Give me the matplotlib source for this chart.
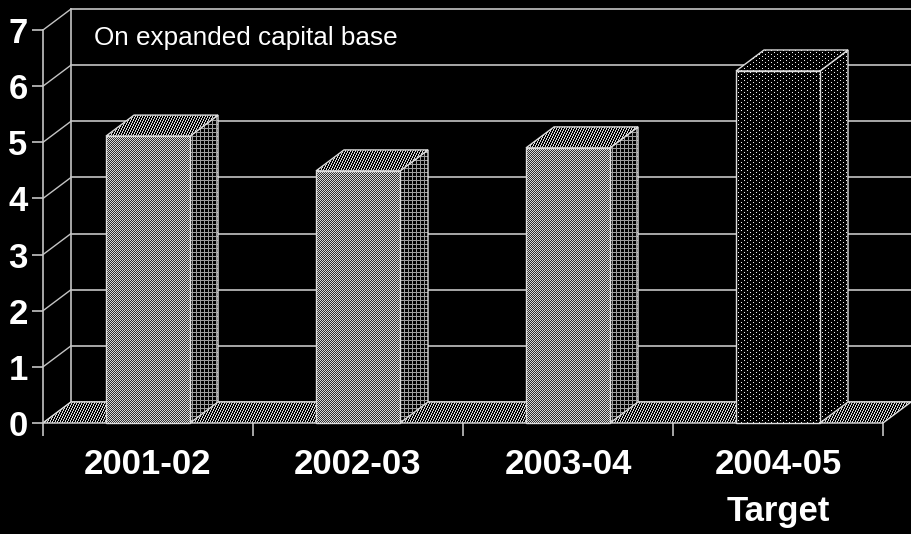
import matplotlib
matplotlib.use("Agg")
import matplotlib.pyplot as plt
from matplotlib.colors import Normalize
from matplotlib.image import FigureImage
from matplotlib.patches import Polygon
from matplotlib.transforms import IdentityTransform
import numpy as np

years = ["2001-02", "2002-03", "2003-04", "2004-05\nTarget"]
values = [5.11, 4.49, 4.90, 6.27]
y_ticks = [0, 1, 2, 3, 4, 5, 6, 7]
note = "On expanded capital base"

WIDTH, HEIGHT = 912, 534
DEPTH_X = 28 / 210
DEPTH_Y = 21 / 56.14
BAR_W = 0.4
GRID = "#c4c4c4"
EDGE = "#dcdcdc"

plt.rcParams["font.family"] = ["Liberation Sans", "DejaVu Sans"]

# dither patterns, one value per output pixel
yy, xx = np.mgrid[0:HEIGHT, 0:WIDTH]
checker = np.where((xx + yy) % 2 == 0, 0.85, 0.18)
lattice = ((xx % 4 == 0) | (yy % 4 == 0)) * 0.62
stripes = ((2 * xx + yy) % 5 < 2) * 0.85
dots = (((xx % 6 == 0) & (yy % 4 == 0)) | (((xx + 3) % 6 == 0) & ((yy + 2) % 4 == 0))) * 0.95


def textured(fig, ax, corners, texture, z):
	im = FigureImage(fig, cmap="gray", norm=Normalize(0, 1), origin="upper", zorder=z)
	im.set_transform(IdentityTransform())
	im.set_array(texture)
	ax.add_artist(im)
	# floor and bar depth reach past the axes box
	im.set_clip_box(fig.bbox)
	im.set_clip_path(Polygon(corners, closed=True, transform=ax.transData))
	outline = Polygon(corners, closed=True, facecolor="none", edgecolor=EDGE, linewidth=1.0, zorder=z + 0.1)
	ax.add_patch(outline)
	outline.set_clip_on(False)


def main() -> None:
	fig = plt.figure(figsize=(WIDTH / 100, HEIGHT / 100), dpi=100, facecolor="black")
	ax = fig.add_axes([43 / WIDTH, 1 - 423 / HEIGHT, 840 / WIDTH, 393 / HEIGHT], facecolor="none")
	n = len(years)
	ax.set_xlim(0, n)
	ax.set_ylim(0, 7)

	for s in ax.spines.values():
		s.set_visible(False)
	ax.spines["left"].set_visible(True)
	ax.spines["left"].set_color(GRID)
	ax.spines["left"].set_linewidth(1.2)

	# back wall and side wall lines
	for v in y_ticks:
		ax.plot([0, DEPTH_X], [v, v + DEPTH_Y], color=GRID, lw=1, clip_on=False, zorder=1)
		ax.plot([DEPTH_X, n + DEPTH_X], [v + DEPTH_Y, v + DEPTH_Y], color=GRID, lw=1.2, clip_on=False, zorder=1)
	ax.plot([DEPTH_X, DEPTH_X], [DEPTH_Y, 7 + DEPTH_Y], color=GRID, lw=1.2, clip_on=False, zorder=1)

	# floor
	floor = [(0, 0), (n, 0), (n + DEPTH_X, DEPTH_Y), (DEPTH_X, DEPTH_Y)]
	textured(fig, ax, floor, stripes, 2)

	for i, v in enumerate(values):
		left = i + 0.5 - BAR_W / 2
		right = left + BAR_W
		target = i == n - 1
		front_tex = dots if target else checker
		side_tex = dots if target else lattice
		top_tex = dots if target else stripes
		side = [(right, 0), (right + DEPTH_X, DEPTH_Y), (right + DEPTH_X, v + DEPTH_Y), (right, v)]
		top = [(left, v), (right, v), (right + DEPTH_X, v + DEPTH_Y), (left + DEPTH_X, v + DEPTH_Y)]
		front = [(left, 0), (right, 0), (right, v), (left, v)]
		textured(fig, ax, side, side_tex, 3.2 + i)
		textured(fig, ax, top, top_tex, 3.4 + i)
		textured(fig, ax, front, front_tex, 3.6 + i)

	ax.set_xticks(np.arange(n + 1))
	ax.set_xticklabels([])
	ax.tick_params(axis="x", which="major", length=9, width=1.2, color=GRID)
	ax.set_xticks(np.arange(n) + 0.5, minor=True)
	ax.set_xticklabels(years, minor=True, fontsize=25, fontweight="bold", color="white", linespacing=1.55)
	ax.tick_params(axis="x", which="minor", length=0, pad=18)

	ax.set_yticks(y_ticks)
	ax.set_yticklabels([str(v) for v in y_ticks], fontsize=25, fontweight="bold", color="white")
	ax.tick_params(axis="y", length=8, width=1.2, color=GRID, pad=3)

	ax.text(0.243, 6.86, note, color="white", fontsize=18.8, va="center", ha="left", zorder=20)

	fig.savefig("out.png", dpi=100, facecolor="black")


if __name__ == "__main__":
	main()
